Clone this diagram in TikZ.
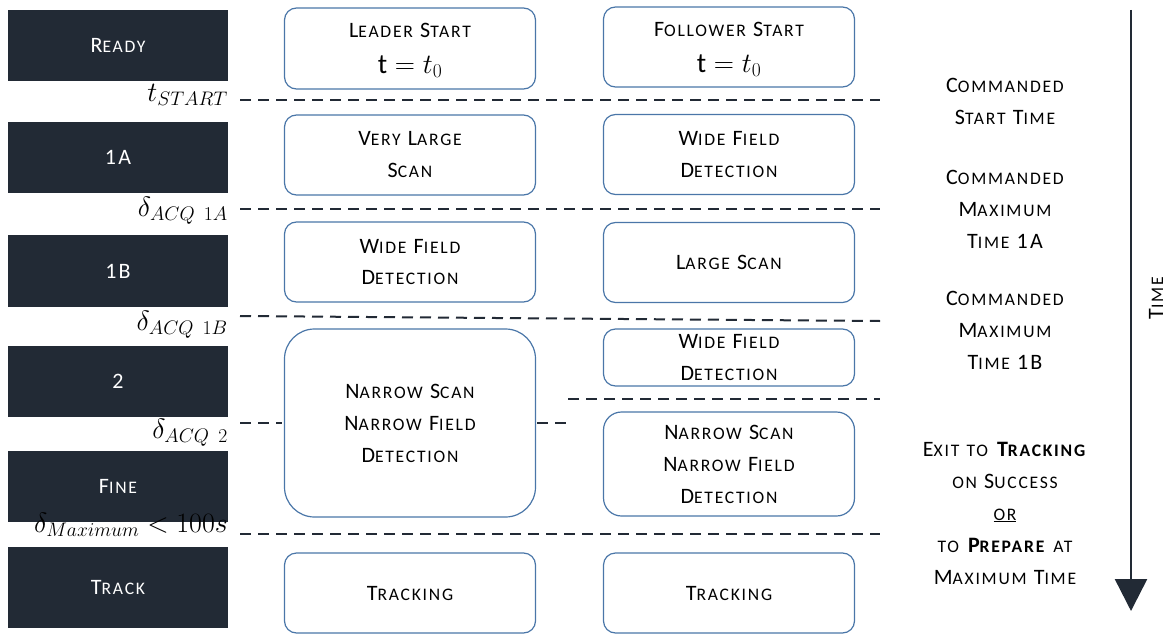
\RequirePackage{fix-cm}
\documentclass[tikz,border=0pt]{standalone}
\usepackage{fontspec}
\setmainfont{Carlito}[LetterSpace=10]
\usetikzlibrary{arrows.meta}
\definecolor{navy}{HTML}{222A35}
\definecolor{boxblue}{HTML}{4A76A8}
\newcommand\sk[2]{#1{\fontsize{17.6}{32}\selectfont\MakeUppercase{#2}}}
\newcommand\bxfont{\fontsize{22}{32}\selectfont}
\newcommand\mth[1]{{\fontsize{28}{32}\selectfont$#1$}}
\begin{document}
\begin{tikzpicture}[x=1pt,y=-1pt,
  dk/.style={fill=navy, draw=none, text=white, minimum width=220pt, inner sep=0pt, font=\bxfont},
  rb/.style={draw=boxblue, line width=1.2pt, rounded corners=12pt, minimum width=251pt, align=center, inner sep=0pt, font=\bxfont},
  sep/.style={draw=navy, line width=2pt, dash pattern=on 11pt off 7pt},
  lbl/.style={anchor=base east, inner sep=0pt, font=\fontsize{28}{32}\selectfont},
  side/.style={align=center, inner sep=0pt, font=\bxfont}]
\useasboundingbox (0,0) rectangle (1167,634);
% left phase boxes
\node[dk, minimum height=71pt] (ready) at (118,45.5) {\sk{R}{eady}};
\node[dk, minimum height=71pt] (s1a) at (118,157.5) {1A};
\node[dk, minimum height=72pt] (s1b) at (118,271) {1B};
\node[dk, minimum height=71pt] (s2) at (118,381.5) {2};
\node[dk, minimum height=71pt] (fine) at (118,486.5) {\sk{F}{ine}};
\node[dk, minimum height=81pt] (track) at (118,587.5) {\sk{T}{rack}};
% leader / follower boxes
\node[rb, minimum height=81pt, text depth=0pt] (lstart) at (410,48.5) {\sk{L}{eader} \sk{S}{tart}\\[4pt] \mth{\mathrm{t}=t_0}};
\node[rb, minimum height=80pt, text depth=0pt] (fstart) at (729,47) {\sk{F}{ollower} \sk{S}{tart}\\[4pt] \mth{\mathrm{t}=t_0}};
\node[rb, minimum height=80pt] (lvls) at (410,155) {\sk{V}{ery} \sk{L}{arge}\\ \sk{S}{can}};
\node[rb, minimum height=80pt] (fwfd1) at (729,154.5) {\sk{W}{ide} \sk{F}{ield}\\ \sk{D}{etection}};
\node[rb, minimum height=80pt] (lwfd) at (410,262) {\sk{W}{ide} \sk{F}{ield}\\ \sk{D}{etection}};
\node[rb, minimum height=80pt] (flarge) at (729,262.5) {\sk{L}{arge} \sk{S}{can}};
\node[rb, minimum height=188pt, rounded corners=30pt] (lnarrow) at (410,423) {\sk{N}{arrow} \sk{S}{can}\\ \sk{N}{arrow} \sk{F}{ield}\\ \sk{D}{etection}};
\node[rb, minimum height=57pt] (fwfd2) at (729,357.5) {\sk{W}{ide} \sk{F}{ield}\\ \sk{D}{etection}};
\node[rb, minimum height=104pt, rounded corners=18pt] (fnarrow) at (729,464) {\sk{N}{arrow} \sk{S}{can}\\ \sk{N}{arrow} \sk{F}{ield}\\ \sk{D}{etection}};
\node[rb, minimum height=80pt] (ltrack) at (410,593) {\sk{T}{racking}};
\node[rb, minimum height=80pt] (ftrack) at (729,593) {\sk{T}{racking}};
% separators
\draw[sep] (240,100) -- (880,100);
\draw[sep] (240,209) -- (880,209);
\draw[sep] (240,316) -- (880,321);
\draw[sep] (240,423) -- (282,423);
\draw[sep] (537,423) -- (566,423);
\draw[sep] (568,399) -- (880,399);
\draw[sep] (240,534) -- (880,534);
% time labels
\node[lbl] (tstart) at (228,101) {$t_{START}$};
\node[lbl] (d1a) at (228,216) {$\delta_{ACQ\ 1A}$};
\node[lbl] (d1b) at (228,330) {$\delta_{ACQ\ 1B}$};
\node[lbl] (d2) at (228,438) {$\delta_{ACQ\ 2}$};
\node[lbl] (dmax) at (228,532) {$\delta_{Maximum}<100s$};
% side notes
\node[side] (cst) at (1005,101) {\sk{C}{ommanded}\\ \sk{S}{tart} \sk{T}{ime}};
\node[side] (cm1a) at (1005,209) {\sk{C}{ommanded}\\ \sk{M}{aximum}\\ \sk{T}{ime} 1A};
\node[side] (cm1b) at (1005,330) {\sk{C}{ommanded}\\ \sk{M}{aximum}\\ \sk{T}{ime} 1B};
\node[side] (exit) at (1005,513) {\sk{E}{xit} \sk{}{to} \textbf{\sk{T}{racking}}\\ \sk{}{on} \sk{S}{uccess}\\ \underline{\sk{}{or}}\\ \sk{}{to} \textbf{\sk{P}{repare}} \sk{}{at}\\ \sk{M}{aximum} \sk{T}{ime}};
% time arrow
\coordinate (atop) at (1131,10);
\coordinate (abot) at (1131,611);
\draw[navy, line width=2.5pt, -{Triangle[length=32pt,width=32pt]}] (atop) -- (abot);
\node[rotate=90, inner sep=0pt, font=\bxfont] (timelbl) at (1156,298) {\sk{T}{ime}};
\end{tikzpicture}
\end{document}
